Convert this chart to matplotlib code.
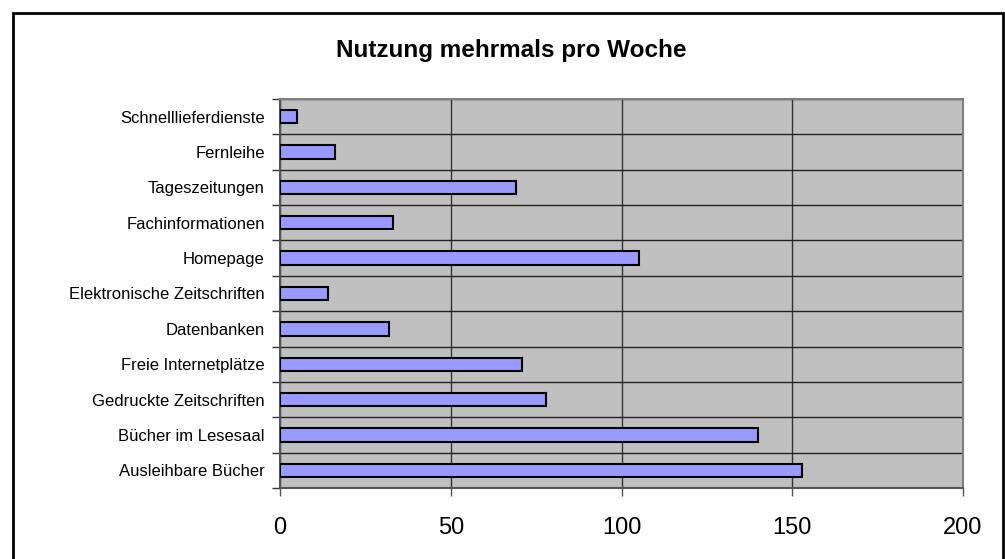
import matplotlib
matplotlib.use("Agg")
import matplotlib.pyplot as plt
from matplotlib.patches import Rectangle
import numpy as np

categories = ["Ausleihbare Bücher", "Bücher im Lesesaal", "Gedruckte Zeitschriften",
              "Freie Internetplätze", "Datenbanken", "Elektronische Zeitschriften",
              "Homepage", "Fachinformationen", "Tageszeitungen", "Fernleihe",
              "Schnelllieferdienste"]
values = [153, 140, 78, 71, 32, 14, 105, 33, 69, 16, 5]
xticks = [0, 50, 100, 150, 200]
title = "Nutzung mehrmals pro Woche"

plt.rcParams['font.family'] = ['Liberation Sans', 'DejaVu Sans']

W, H = 1005, 559
fig = plt.figure(figsize=(W / 100, H / 100), dpi=100)
fig.patch.set_facecolor("white")
fig.patches.append(Rectangle((12.5 / W, -0.05), 990 / W, 1.05 - 13 / H,
                             transform=fig.transFigure, fill=False,
                             edgecolor="black", linewidth=2))

ax = fig.add_axes([280 / W, 1 - 488 / H, 683 / W, 389 / H])
ax.set_facecolor("#C0C0C0")
y = np.arange(len(categories))
ax.barh(y, values, height=0.38, color="#9999FF", edgecolor="black", linewidth=1.5, zorder=3)

ax.set_xlim(0, 200)
ax.set_ylim(-0.5, len(categories) - 0.5)
ax.set_xticks(xticks)
ax.set_xticklabels([str(t) for t in xticks], fontsize=17)
ax.set_yticks(y)
ax.set_yticklabels(categories, fontsize=12)
ax.tick_params(axis="y", which="major", length=0, pad=11)
ax.set_yticks(np.arange(-0.5, len(categories), 1.0), minor=True)
ax.tick_params(axis="y", which="minor", length=6, width=1, color="#333333", direction="out")
ax.tick_params(axis="x", which="major", length=6, width=1, color="#555555", pad=15)
ax.grid(True, which="minor", axis="y", color="#222222", linewidth=1, zorder=1)
ax.grid(True, which="major", axis="x", color="#333333", linewidth=1, zorder=1)
for s in ["top", "right"]:
    ax.spines[s].set_color("#808080")
    ax.spines[s].set_linewidth(1.5)
for s in ["left", "bottom"]:
    ax.spines[s].set_color("#555555")
    ax.spines[s].set_linewidth(1.5)

fig.text(511 / W, 1 - 51 / H, title, ha="center", va="center",
         fontsize=17.5, fontweight="bold")

fig.savefig("out.png", dpi=100)
